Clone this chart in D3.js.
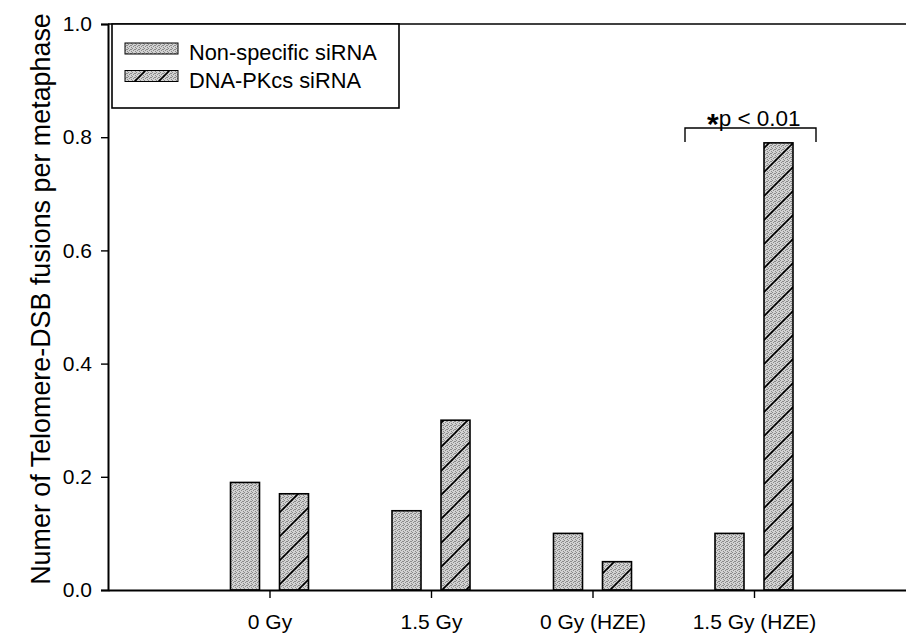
<!DOCTYPE html>
<html>
<head>
<meta charset="utf-8">
<script src="https://cdn.jsdelivr.net/npm/d3@7"></script>
<style>
  html, body { margin: 0; padding: 0; background: #fff; }
  svg { display: block; font-family: "Liberation Sans", Arial, sans-serif; }
</style>
</head>
<body>
<svg id="chart" width="906" height="635"></svg>
<script>
// ---- data ----
const categories = ["0 Gy", "1.5 Gy", "0 Gy (HZE)", "1.5 Gy (HZE)"];
const nonSpecific = [0.19, 0.14, 0.10, 0.10];
const dnaPKcs = [0.17, 0.30, 0.05, 0.79];
const seriesNames = ["Non-specific siRNA", "DNA-PKcs siRNA"];
const yTicks = [0.0, 0.2, 0.4, 0.6, 0.8, 1.0];
const yTitle = "Numer of Telomere-DSB fusions per metaphase";
const sigLabel = "p < 0.01";

// ---- layout ----
const svg = d3.select("#chart");
const mLeft = 108, mTop = 24, mBottom = 590;
const step = 161.5;
const x = d3.scaleLinear().domain([0, categories.length + 1]).range([mLeft, mLeft + step * (categories.length + 1)]);
const y = d3.scaleLinear().domain([0, 1]).range([mBottom, mTop]);
const barW = 29, offset = 24.5;
const FONT = "Liberation Sans, Arial, sans-serif";

// patterns
const defs = svg.append("defs");
const stip = defs.append("pattern").attr("id", "stip").attr("patternUnits", "userSpaceOnUse")
  .attr("width", 4).attr("height", 4);
stip.append("rect").attr("width", 4).attr("height", 4).attr("fill", "#d2d2d2");
[[0,0],[2,1],[1,2],[3,3],[3,1]].forEach(([a,b]) =>
  stip.append("rect").attr("x", a).attr("y", b).attr("width", 1).attr("height", 1).attr("fill", "#8a8a8a"));

const hatch = defs.append("pattern").attr("id", "hatch").attr("patternUnits", "userSpaceOnUse")
  .attr("width", 24).attr("height", 24);
hatch.append("rect").attr("width", 24).attr("height", 24).attr("fill", "url(#stip)");
hatch.append("path").attr("d", "M-6,6 L6,-6 M0,24 L24,0 M18,30 L30,18")
  .attr("stroke", "#000").attr("stroke-width", 1.6);

// top frame line
svg.append("line").attr("x1", mLeft).attr("x2", 906).attr("y1", mTop).attr("y2", mTop)
  .attr("stroke", "#000").attr("stroke-width", 1.6);

// bars
const g = svg.append("g");
categories.forEach((c, i) => {
  const cx = x(i + 1);
  g.append("rect").attr("x", cx - offset - barW / 2).attr("y", y(nonSpecific[i]))
    .attr("width", barW).attr("height", y(0) - y(nonSpecific[i]))
    .attr("fill", "url(#stip)").attr("stroke", "#000").attr("stroke-width", 1.6);
  g.append("rect").attr("x", cx + offset - barW / 2).attr("y", y(dnaPKcs[i]))
    .attr("width", barW).attr("height", y(0) - y(dnaPKcs[i]))
    .attr("fill", "url(#hatch)").attr("stroke", "#000").attr("stroke-width", 1.6);
});

// y axis
const yAxis = svg.append("g").attr("transform", `translate(${mLeft},0)`)
  .call(d3.axisLeft(y).tickValues(yTicks).tickFormat(d3.format(".1f")).tickSize(7).tickPadding(9));
yAxis.select(".domain").attr("stroke-width", 2);
yAxis.selectAll(".tick line").attr("stroke-width", 1.4);
yAxis.selectAll("text").attr("font-size", 21).attr("fill", "#000").attr("font-family", FONT);

// x axis
const xAxis = svg.append("g").attr("transform", `translate(0,${mBottom})`)
  .call(d3.axisBottom(x).tickValues(categories.map((c, i) => i + 1))
    .tickFormat((d) => categories[d - 1]).tickSize(8).tickPadding(16).tickSizeOuter(0));
xAxis.select(".domain").attr("stroke-width", 2);
xAxis.selectAll(".tick line").attr("stroke-width", 1.4);
xAxis.selectAll("text").attr("font-size", 21).attr("fill", "#000").attr("font-family", FONT);

// y title (sized to span ~572px like the reference)
const yt = svg.append("text").attr("transform", `translate(50,299) rotate(-90)`)
  .attr("text-anchor", "middle").attr("font-size", 24).text(yTitle);
const len = yt.node().getComputedTextLength();
if (len > 0) yt.attr("font-size", 24 * 572 / len);

// legend
svg.append("rect").attr("x", 112).attr("y", mTop).attr("width", 287).attr("height", 84)
  .attr("fill", "#fff").attr("stroke", "#000").attr("stroke-width", 1.6);
const legFills = ["url(#stip)", "url(#hatch)"];
seriesNames.forEach((s, i) => {
  const ly = 43 + i * 27.5;
  svg.append("rect").attr("x", 125).attr("y", ly).attr("width", 53).attr("height", 11)
    .attr("fill", legFills[i]).attr("stroke", "#000").attr("stroke-width", 1);
  svg.append("text").attr("x", 189).attr("y", ly + 17).attr("font-size", 21.8).text(s);
});

// significance bracket
const bx1 = 685, bx2 = 816, by = 128;
svg.append("path").attr("d", `M${bx1},${by + 14} V${by} H${bx2} V${by + 14}`)
  .attr("fill", "none").attr("stroke", "#000").attr("stroke-width", 1.4);
const st = svg.append("text").attr("x", 707).attr("y", 126).attr("font-size", 22.5);
st.append("tspan").attr("font-size", 30).attr("font-weight", "bold").attr("dy", 8).text("*");
st.append("tspan").attr("dy", -8).text(sigLabel);
</script>
</body>
</html>
